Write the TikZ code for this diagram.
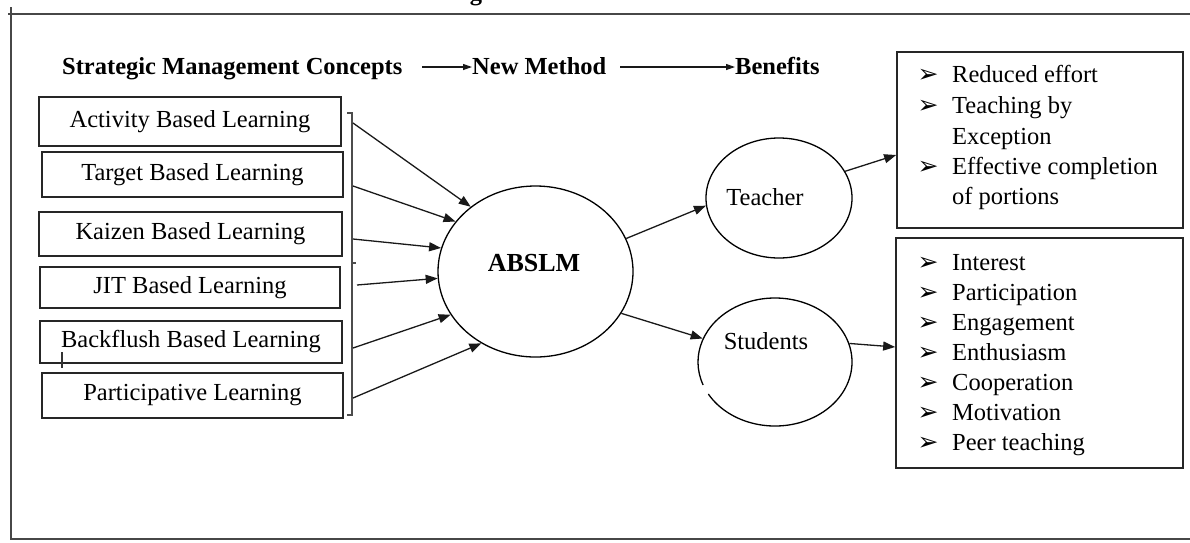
\documentclass[tikz,border=0pt]{standalone}
\usepackage{fontspec}
\setmainfont{Liberation Serif}
\newfontfamily\symfont{DejaVu Sans}
\usetikzlibrary{arrows.meta,shapes.geometric,calc}

\begin{document}
\begin{tikzpicture}[x=1pt,y=-1pt,
  txt/.style={font=\fontsize{24.5}{28}\selectfont, inner sep=0pt},
  hdr/.style={font=\fontsize{24.5}{28}\selectfont\bfseries, inner sep=0pt},
  framerule/.style={draw=black!72, line width=2pt},
  conceptbox/.style={draw=black!85, line width=1.7pt, rectangle, inner sep=0pt,
    font=\fontsize{24.5}{28}\selectfont},
  listbox/.style={draw=black!85, line width=1.7pt, rectangle, inner sep=0pt},
  oval/.style={ellipse, inner sep=0pt, line width=1.3pt},
  conn/.style={draw=black!90, line width=1.3pt,
    -{Triangle[length=12pt,width=9pt]}},
  hconn/.style={draw=black!90, line width=1.2pt,
    -{Triangle[length=9pt,width=6pt]}},
  bul/.style={font=\symfont\fontsize{25}{28}\selectfont, inner sep=0pt, anchor=base},
  item/.style={font=\fontsize{24.5}{28}\selectfont, inner sep=0pt, anchor=base west}
]
\useasboundingbox (0,0) rectangle (1190,542);

% outer frame (open on the right)
\draw[framerule] (8,14) -- (1190,14);
\draw[framerule] (11,7) -- (11,539) -- (1190,539);

% descender of the caption line above the frame
\begin{scope}
  \clip (0,0) rectangle (1190,12);
  \node[hdr, anchor=base] (captiong) at (476,0) {g};
\end{scope}

% header row
\node[hdr, anchor=base west] (hsmc) at (62,74) {Strategic Management Concepts};
\node[hdr, anchor=base west] (hnm) at (472,74) {New Method};
\node[hdr, anchor=base west] (hben) at (735,74) {Benefits};
\coordinate (h1s) at (422,67);
\coordinate (h1e) at (472,67);
\coordinate (h2s) at (620,67);
\coordinate (h2e) at (735,67);
\draw[hconn] (h1s) -- (h1e);
\draw[hconn] (h2s) -- (h2e);

% strategic management concepts
\node[conceptbox, minimum width=302pt, minimum height=49pt] (abl) at (190,121.5) {Activity Based Learning};
\node[conceptbox, minimum width=301pt, minimum height=45pt] (tbl) at (192.5,174.5) {Target Based Learning};
\node[conceptbox, minimum width=303pt, minimum height=44pt] (kbl) at (190.5,234) {Kaizen Based Learning};
\node[conceptbox, minimum width=300pt, minimum height=41pt] (jbl) at (190,287.5) {JIT Based Learning};
\node[conceptbox, minimum width=302pt, minimum height=42pt] (bbl) at (191,342) {Backflush Based Learning};
\node[conceptbox, minimum width=301pt, minimum height=45pt] (pl) at (192.5,395.5) {Participative Learning};

% bracket grouping the concepts
\draw[draw=black!70, line width=1.3pt] (347,113) -- (352,113) -- (352,415) -- (347,415);
\draw[draw=black!70, line width=1.3pt] (352,263) -- (356,263);
\draw[draw=black!80, line width=1.2pt] (62,352) -- (62,368);

% new method
\node[oval, draw, minimum width=195pt, minimum height=171pt] (abslm) at (535.5,271.5) {};
\node[hdr, font=\fontsize{26}{30}\selectfont\bfseries] (abslmtxt) at (534,263) {ABSLM};

\coordinate (s1) at (353,123);
\coordinate (s2) at (353,186);
\coordinate (s3) at (353,239);
\coordinate (s4) at (357,285);
\coordinate (s5) at (353,348);
\coordinate (s6) at (353,398);
\draw[conn] (s1) -- (abslm.135);
\draw[conn] (s2) -- (abslm.148);
\draw[conn] (s3) -- (abslm.166);
\draw[conn] (s4) -- (abslm.184);
\draw[conn] (s5) -- (abslm.207);
\draw[conn] (s6) -- (abslm.233);

% beneficiaries
\node[oval, draw, minimum width=146pt, minimum height=120pt] (teacher) at (779,198) {};
\node[txt] (teachertxt) at (765,197) {Teacher};
\node[oval, minimum width=154pt, minimum height=128pt] (students) at (775,362) {};
% outline of the students oval, with its small break on the lower left
\draw[line width=1.3pt] (students.center) ++(210:77pt and 64pt)
  arc[start angle=210, end angle=561, x radius=77pt, y radius=64pt];
\node[txt] (studentstxt) at (766,341) {Students};

\draw[conn] (abslm.20) -- (teacher.186);
\draw[conn] (abslm.-26) -- (students.162);

% benefit lists
\node[listbox, minimum width=286pt, minimum height=176pt] (tbox) at (1040,140) {};
\node[listbox, minimum width=287pt, minimum height=230pt] (sbox) at (1039.5,353) {};

\draw[conn] (teacher.22) -- ($(tbox.west)+(0,15)$);
\draw[conn] (students.14) -- ($(sbox.west)+(0,-6)$);

\foreach \t/\y/\b [count=\i] in {Reduced effort/82/1, Teaching by/113/1, Exception/144/0,
    Effective completion/174/1, of portions/204/0} {
  \node[item] (tb\i) at (952,\y) {\t};
  \ifnum\b=1 \node[bul] (tk\i) at (928,\y) {➢}; \fi
}
\foreach \t/\y [count=\i] in {Interest/270, Participation/300, Engagement/330,
    Enthusiasm/360, Cooperation/390, Motivation/420, Peer teaching/450} {
  \node[item] (sb\i) at (952,\y) {\t};
  \node[bul] (sk\i) at (928,\y) {➢};
}
\end{tikzpicture}
\end{document}
